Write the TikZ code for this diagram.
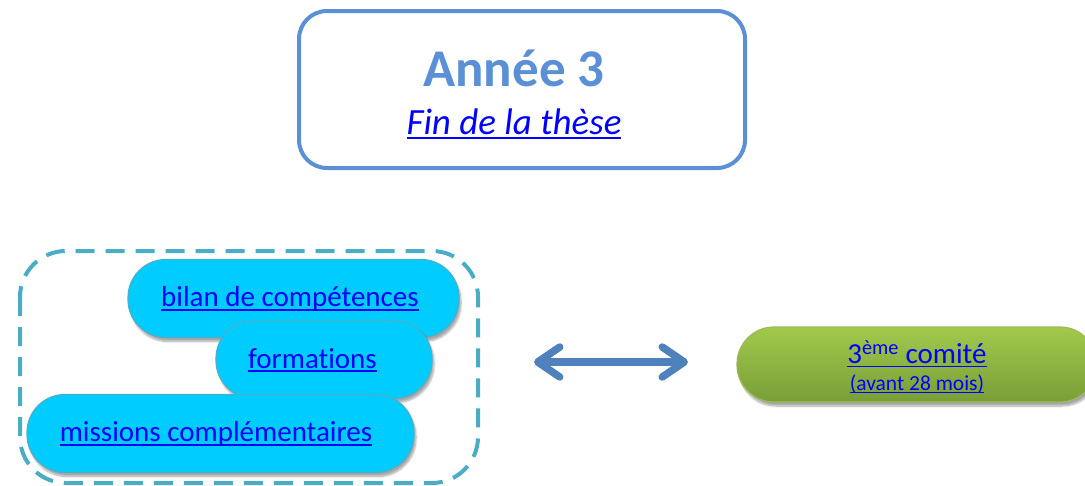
\documentclass[tikz,border=0pt]{standalone}
\usepackage{fontspec}
\setmainfont{Carlito}[Ligatures={NoCommon}]
\usetikzlibrary{arrows.meta,shadows,shadows.blur}
\definecolor{titleblue}{HTML}{5B8FD6}
\definecolor{dashcol}{HTML}{4BACC6}
\definecolor{arrowcol}{HTML}{4F81BD}
\definecolor{pillcyan}{HTML}{00CCFF}
\definecolor{pillline}{HTML}{4AAFCB}
\definecolor{linkblue}{HTML}{0000FF}
\definecolor{greentop}{HTML}{A2C94C}
\definecolor{greenbot}{HTML}{789E38}
\definecolor{greenline}{HTML}{9BBB59}
\newcommand\myul[1]{\setbox0\hbox{#1}\rlap{\rule[-0.13em]{\wd0}{0.06em}}\box0}
\tikzset{
  titlebox/.style={draw=titleblue, line width=4pt, rounded corners=28pt, fill=white},
  groupbox/.style={draw=dashcol, line width=4pt, rounded corners=46pt, dash pattern=on 19pt off 11pt},
  cyanpill/.style={fill=pillcyan, draw=pillline, line width=1.2pt, rounded corners=38pt,
    inner sep=0pt, minimum height=78pt,
    blur shadow={shadow xshift=2pt, shadow yshift=-4pt, shadow opacity=35, shadow blur steps=8}},
  greenpill/.style={top color=greentop, bottom color=greenbot, draw=greenline, line width=1.2pt,
    rounded corners=37pt, inner sep=0pt, minimum height=75pt,
    blur shadow={shadow xshift=2pt, shadow yshift=-4pt, shadow opacity=35, shadow blur steps=8}},
  linktext/.style={text=linkblue, inner sep=0pt},
  dblarrow/.style={draw=arrowcol, line width=7.5pt, line cap=round,
    {Straight Barb[length=22pt,width=30pt,round]}-{Straight Barb[length=22pt,width=30pt,round]}}
}
\begin{document}
\begin{tikzpicture}[x=1pt,y=-1pt]
\useasboundingbox (0,0) rectangle (1085,485);
% title
\draw[titlebox] (299,11) rectangle (745,168);
\node[text=titleblue, font=\fontsize{53}{60}\selectfont\bfseries] (title) at (514,68) {Année 3};
\node[text=linkblue, font=\fontsize{37}{42}\selectfont\itshape] (sub) at (514,124) {\myul{Fin de la thèse}};
% group
\draw[groupbox] (20,251) rectangle (478,483);
\node[cyanpill, minimum width=331pt] (bilan) at (293.5,298.5) {};
\node[linktext, font=\fontsize{29}{34}\selectfont] (bilant) at (290,299) {\myul{bilan de compétences}};
\node[cyanpill, minimum width=216pt] (form) at (324,359.5) {};
\node[linktext, font=\fontsize{29}{34}\selectfont] (formt) at (312.5,360) {\myul{formations}};
\node[cyanpill, minimum width=387pt] (miss) at (220.5,433.5) {};
\node[linktext, font=\fontsize{29}{34}\selectfont] (misst) at (216,434) {\myul{missions complémentaires}};
% arrow
\coordinate (aL) at (534,362);
\coordinate (aR) at (688,362);
\draw[dblarrow] (aL) -- (aR);
% green pill
\node[greenpill, minimum width=360pt] (comite) at (917,364.5) {};
\node[linktext, font=\fontsize{29}{34}\selectfont] (c1) at (917,354) {\myul{3\textsuperscript{ème} comité}};
\node[linktext, font=\fontsize{21.5}{25}\selectfont] (c2) at (917,384) {\myul{(avant 28 mois)}};
\end{tikzpicture}
\end{document}
